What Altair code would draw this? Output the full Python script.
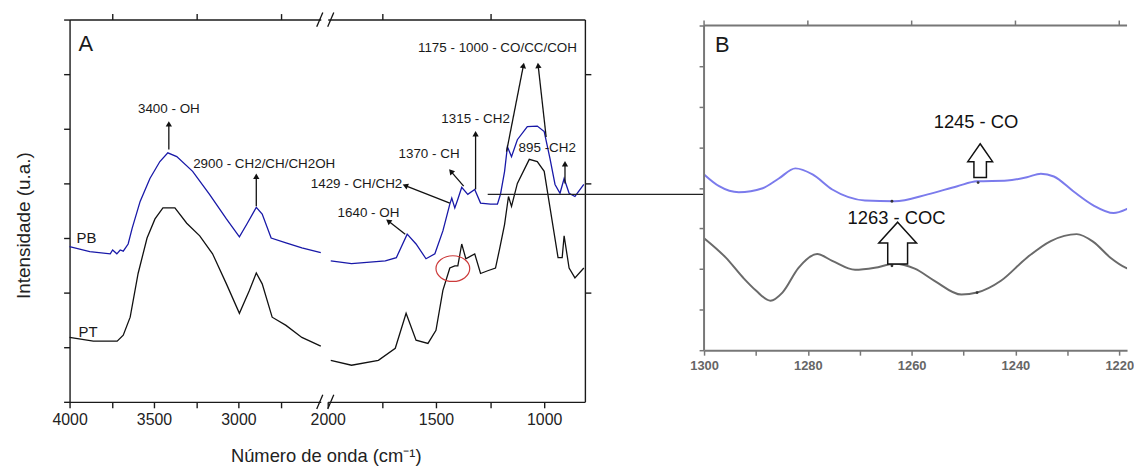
import altair as alt
import pandas as pd

FONT = "Liberation Sans"
BLUE_A = "#1818a8"
BLACK = "#111111"
BLUE_B = "#7b7bec"
GRAY_B = "#6a6a6a"
RED = "#cc3a3a"

# ---------------- Panel A, left segment (4000 -> ~2512 cm-1) ----------------
pb_left_wn = [4000, 3880, 3759, 3745, 3720, 3700, 3682, 3653, 3629, 3582, 3524, 3465, 3418,
              3365, 3271, 3171, 3071, 2994, 2947, 2894, 2859, 2806, 2718, 2624, 2512]
pb_left_val = [2.84, 2.75, 2.71, 2.78, 2.71, 2.78, 2.76, 2.89, 3.18, 3.67, 4.09, 4.40, 4.56,
               4.49, 4.22, 3.80, 3.35, 3.02, 3.27, 3.56, 3.44, 3.00, 2.91, 2.82, 2.73]
pt_left_wn = [4000, 3859, 3718, 3682, 3641, 3594, 3541, 3494, 3447, 3376, 3306, 3229, 3153,
              3071, 2994, 2935, 2894, 2859, 2800, 2718, 2624, 2512]
pt_left_val = [1.18, 1.11, 1.11, 1.22, 1.55, 2.35, 3.00, 3.35, 3.55, 3.55, 3.27, 3.04, 2.71,
               2.16, 1.62, 2.04, 2.36, 2.16, 1.55, 1.40, 1.18, 1.02]

# ---------------- Panel A, right segment (2000 -> ~812 cm-1) ----------------
pb_right_wn = [1986, 1890, 1734, 1683, 1633, 1592, 1546, 1505, 1468, 1436, 1427, 1413, 1399,
               1381, 1353, 1321, 1294, 1248, 1216, 1202, 1183, 1170, 1151, 1124, 1078, 1032,
               1000, 973, 950, 927, 908, 885, 858, 817]
pb_right_val = [2.58, 2.53, 2.58, 2.64, 3.07, 2.89, 2.62, 2.71, 3.13, 3.62, 3.73, 3.55, 3.71,
                3.93, 3.80, 3.89, 3.64, 3.62, 3.62, 3.80, 4.22, 4.67, 4.49, 4.80, 5.04, 5.05,
                4.95, 4.45, 3.98, 3.82, 4.09, 3.82, 3.76, 3.98]
pt_right_wn = [1986, 1890, 1766, 1688, 1638, 1592, 1537, 1500, 1468, 1436, 1413, 1399, 1381,
               1362, 1321, 1294, 1261, 1225, 1206, 1183, 1165, 1151, 1124, 1069, 1032, 1000,
               973, 936, 917, 908, 885, 858, 817]
pt_right_val = [0.76, 0.67, 0.76, 0.98, 1.62, 1.13, 1.07, 1.31, 2.04, 2.45, 2.49, 2.49, 2.89,
                2.62, 2.71, 2.35, 2.40, 2.45, 2.80, 3.25, 3.76, 3.58, 4.00, 4.44, 4.40, 4.22,
                3.55, 2.64, 2.64, 3.04, 2.45, 2.27, 2.45]

# ---------------- Panel B (zoom 1300 -> 1218 cm-1) ----------------
pb_b_wn = [1300, 1297.1, 1293.3, 1288.7, 1285.6, 1282.4, 1279.1, 1275.3, 1269.0, 1263.3,
           1256.9, 1251.2, 1247.4, 1241.6, 1237.8, 1235.1, 1232.6, 1228.8, 1225.0, 1221.1,
           1218.7, 1216.9]
pb_b_val = [4.33, 4.04, 3.89, 3.99, 4.23, 4.48, 4.33, 3.96, 3.69, 3.67,
            3.84, 4.04, 4.16, 4.18, 4.26, 4.35, 4.28, 3.91, 3.57, 3.38,
            3.47, 3.60]
pt_b_wn = [1300, 1295.8, 1292.5, 1290.0, 1287.2, 1284.9, 1281.8, 1278.2, 1275.3, 1270.9,
           1267.1, 1263.3, 1259.4, 1255.6, 1250.4, 1247.4, 1242.8, 1237.8, 1233.2, 1228.2,
           1225.0, 1221.7, 1218.7, 1216.9]
pt_b_val = [2.76, 2.28, 1.79, 1.47, 1.22, 1.42, 2.03, 2.37, 2.20, 1.98,
            2.03, 2.13, 2.01, 1.71, 1.37, 1.42, 1.71, 2.28, 2.69, 2.86,
            2.67, 2.28, 2.03, 1.96]

# ---------------- annotations ----------------
ann_l_text = ["3400 - OH", "2900 - CH2/CH/CH2OH"]
ann_l_x = [3412, 2847]
ann_l_y = [5.36, 4.35]
arr_l_x1 = [3412, 2894]
arr_l_y1 = [4.62, 3.58]
arr_l_x2 = [3412, 2894]
arr_l_y2 = [5.09, 4.13]
arr_l_ang = [0, 0]

ann_r_text = ["1175 - 1000 - CO/CC/COH", "1315 - CH2", "1370 - CH", "1429 - CH/CH2",
              "1640 - OH", "895 -CH2"]
ann_r_x = [1216, 1317, 1532, 1867, 1812, 986]
ann_r_y = [6.47, 5.18, 4.53, 3.98, 3.45, 4.64]
arr_r_x1 = [1174, 991, 1317, 1372, 1436, 1642, 904]
arr_r_y1 = [4.58, 4.85, 3.89, 3.95, 3.64, 3.07, 4.00]
arr_r_x2 = [1096, 1028, 1317, 1431, 1642, 1720, 904]
arr_r_y2 = [6.16, 6.16, 4.91, 4.22, 3.96, 3.31, 4.36]
arr_r_ang = [11, 354, 0, 319, 292, 307, 0]

series_names = ["PB", "PT"]
series_lab_x = [3959, 3947]
series_lab_y = [3.00, 1.27]

# axis break marks "//"
brk_x1 = [2536, 2471, 2536, 2471]
brk_x2 = [2500, 2435, 2500, 2435]
brk_y1 = [6.87, 6.87, -0.13, -0.13]
brk_y2 = [7.13, 7.13, 0.13, 0.13]

# connector line from panel A to panel B
conn_x1 = [1261]
conn_x2 = [261]
conn_y = [3.80]

# highlighted region (red ellipse)
ell_x = [1422]
ell_y = [2.44]

# panel B labels
b_text = ["1245 - CO", "1263 - COC"]
b_text_x = [1247.6, 1262.9]
b_text_y = [5.63, 3.25]
b_arrow_x = [1246.8, 1262.7]
b_arrow_y = [4.67, 2.64]
b_dot_x = [1263.8, 1247.2, 1263.8, 1247.4]
b_dot_y = [3.67, 4.13, 2.08, 1.42]
b_top_ticks = [1300, 1280, 1260, 1240, 1220]
b_xmax = 1218.5
b_ytop = 8.147   # top of panel B's plot area (frame line sits at 8)


def long(series, key):
    rows = []
    for name, wns, vals in series:
        for w, v in zip(wns, vals):
            rows.append({key: name, "wn": w, "val": v})
    return pd.DataFrame(rows)


df_al = long([("PB", pb_left_wn, pb_left_val), ("PT", pt_left_wn, pt_left_val)], "serie")
df_ar = long([("PB", pb_right_wn, pb_right_val), ("PT", pt_right_wn, pt_right_val)], "serie")
df_b = long([("PB", pb_b_wn, pb_b_val), ("PT", pt_b_wn, pt_b_val)], "curva")

color_a = alt.Scale(domain=["PB", "PT"], range=[BLUE_A, BLACK])
color_b = alt.Scale(domain=["PB", "PT"], range=[BLUE_B, GRAY_B])

ax_a = dict(domainColor="#1a1a1a", domainWidth=1.4, tickColor="#1a1a1a", tickWidth=1.4,
            tickSize=6, grid=False, labelFontSize=16, labelColor="#222222", labelPadding=4,
            labelFlush=False)
ax_b = dict(domainColor="#777777", domainWidth=2, tickColor="#777777", tickWidth=1.5,
            tickSize=5, grid=False, labelFontSize=13, labelFontWeight="bold",
            labelColor="#666666", labelPadding=4, labelFlush=False)

no_stroke = alt.ViewBackground(strokeOpacity=0, strokeWidth=0)
ys_a = alt.Scale(domain=[0, 7], nice=False, zero=False)

# ======================= Panel A left =======================
xs_l = alt.Scale(domain=[4000, 2512], nice=False, zero=False)
bottom_l = alt.Axis(orient="bottom", values=[4000, 3750, 3500, 3250, 3000, 2750], format="d",
                    labelExpr="datum.value % 500 == 0 ? datum.label : ''", title=None, **ax_a)
top_l = alt.Axis(orient="top", values=[3750, 3250, 2750], labels=False, title=None, **ax_a)
left_a = alt.Axis(orient="left", values=list(range(8)), labels=False,
                  title="Intensidade (u.a.)", titleFontSize=19, titleFontWeight="normal",
                  titleColor="#222222", titleAngle=270, titleX=-36, titleY=207,
                  titleAlign="center", titleBaseline="bottom", **ax_a)


def yl(field):
    return alt.Y(field, scale=ys_a, axis=left_a)


lines_l = alt.Chart(df_al).mark_line(strokeWidth=1.3).encode(
    x=alt.X("wn:Q", scale=xs_l, axis=bottom_l), y=yl("val:Q"),
    color=alt.Color("serie:N", scale=color_a, legend=None),
)
df_arr_l = pd.DataFrame({"x1": arr_l_x1, "y1": arr_l_y1, "x2": arr_l_x2, "y2": arr_l_y2,
                         "ang": arr_l_ang})
arr_l = alt.Chart(df_arr_l).mark_rule(color=BLACK, strokeWidth=1.3).encode(
    x=alt.X("x1:Q", scale=xs_l, axis=top_l), x2="x2:Q", y=yl("y1:Q"), y2="y2:Q")
head_l = alt.Chart(df_arr_l).mark_point(shape="triangle-up", filled=True, color=BLACK,
                                        size=40, opacity=1).encode(
    x=alt.X("x2:Q", scale=xs_l, axis=None), y=yl("y2:Q"),
    angle=alt.Angle("ang:Q", scale=None))
txt_l = alt.Chart(pd.DataFrame({"t": ann_l_text, "x": ann_l_x, "y": ann_l_y})).mark_text(
    fontSize=13.5, color="#1a1a1a").encode(
    x=alt.X("x:Q", scale=xs_l, axis=None), y=yl("y:Q"), text="t:N")
ser_l = alt.Chart(pd.DataFrame({"t": series_names, "x": series_lab_x, "y": series_lab_y})).mark_text(
    fontSize=15, align="left", color="#1a1a1a").encode(
    x=alt.X("x:Q", scale=xs_l, axis=None), y=yl("y:Q"), text="t:N")
lab_A = alt.Chart(pd.DataFrame({"t": ["A"], "x": [3947], "y": [6.55]})).mark_text(
    fontSize=22, align="left", color="#1a1a1a").encode(
    x=alt.X("x:Q", scale=xs_l, axis=None), y=yl("y:Q"), text="t:N")
brk = alt.Chart(pd.DataFrame({"x1": brk_x1, "x2": brk_x2, "y1": brk_y1, "y2": brk_y2})).mark_rule(
    color=BLACK, strokeWidth=1.3, clip=False).encode(
    x=alt.X("x1:Q", scale=xs_l, axis=None), x2="x2:Q", y=yl("y1:Q"), y2="y2:Q")

A_left = alt.layer(lines_l, arr_l, head_l, txt_l, ser_l, lab_A, brk).resolve_axis(
    x="independent").properties(width=253, height=385, view=no_stroke)

# ======================= Panel A right =======================
xs_r = alt.Scale(domain=[2000, 812], nice=False, zero=False)
bottom_r = alt.Axis(orient="bottom", values=[2000, 1750, 1500, 1250, 1000], format="d",
                    labelExpr="datum.value % 500 == 0 ? datum.label : ''",
                    title="Número de onda (cm⁻¹)", titleFontSize=18.5, titleFontWeight="normal",
                    titleColor="#222222", titleX=-2, titleY=60, titleAlign="center",
                    titleBaseline="alphabetic", **ax_a)
top_r = alt.Axis(orient="top", values=[1750, 1250], labels=False, title=None, **ax_a)
right_a = alt.Axis(orient="right", values=[2, 4, 6], labels=False, title=None, **ax_a)


def yr(field):
    return alt.Y(field, scale=ys_a, axis=right_a)


lines_r = alt.Chart(df_ar).mark_line(strokeWidth=1.3).encode(
    x=alt.X("wn:Q", scale=xs_r, axis=bottom_r), y=yr("val:Q"),
    color=alt.Color("serie:N", scale=color_a, legend=None),
)
df_arr_r = pd.DataFrame({"x1": arr_r_x1, "y1": arr_r_y1, "x2": arr_r_x2, "y2": arr_r_y2,
                         "ang": arr_r_ang})
arr_r = alt.Chart(df_arr_r).mark_rule(color=BLACK, strokeWidth=1.3).encode(
    x=alt.X("x1:Q", scale=xs_r, axis=top_r), x2="x2:Q", y=yr("y1:Q"), y2="y2:Q")
head_r = alt.Chart(df_arr_r).mark_point(shape="triangle-up", filled=True, color=BLACK,
                                        size=40, opacity=1).encode(
    x=alt.X("x2:Q", scale=xs_r, axis=None), y=yr("y2:Q"),
    angle=alt.Angle("ang:Q", scale=None))
txt_r = alt.Chart(pd.DataFrame({"t": ann_r_text, "x": ann_r_x, "y": ann_r_y})).mark_text(
    fontSize=13.5, color="#1a1a1a").encode(
    x=alt.X("x:Q", scale=xs_r, axis=None), y=yr("y:Q"), text="t:N")
conn = alt.Chart(pd.DataFrame({"x1": conn_x1, "x2": conn_x2, "y": conn_y})).mark_rule(
    color="#222222", strokeWidth=1.2, clip=False).encode(
    x=alt.X("x1:Q", scale=xs_r, axis=None), x2="x2:Q", y=yr("y:Q"))
ellipse = alt.Chart(pd.DataFrame({"x": ell_x, "y": ell_y})).mark_point(
    shape="M-1,0A1,0.76,0,1,1,1,0A1,0.76,0,1,1,-1,0Z", size=1156, filled=False,
    stroke=RED, strokeWidth=1.2, opacity=1).encode(
    x=alt.X("x:Q", scale=xs_r, axis=None), y=yr("y:Q"))

A_right = alt.layer(lines_r, arr_r, head_r, txt_r, conn, ellipse).resolve_axis(
    x="independent").properties(width=259, height=385, view=no_stroke)

# ======================= Panel B =======================
xs_b = alt.Scale(domain=[1300, b_xmax], nice=False, zero=False)
ys_b = alt.Scale(domain=[0, b_ytop], nice=False, zero=False)
bottom_b = alt.Axis(orient="bottom", values=[1300, 1290, 1280, 1270, 1260, 1250, 1240, 1230, 1220],
                    format="d", labelExpr="datum.value % 20 == 0 ? datum.label : ''",
                    title=None, **ax_b)
left_b = alt.Axis(orient="left", values=list(range(9)), labels=False, title=None, domain=False,
                  **{k: v for k, v in ax_b.items() if not k.startswith("domain")})


def yb(field):
    return alt.Y(field, scale=ys_b, axis=left_b)


lines_b = alt.Chart(df_b).mark_line(strokeWidth=2, interpolate="monotone", clip=True).encode(
    x=alt.X("wn:Q", scale=xs_b, axis=bottom_b), y=yb("val:Q"),
    color=alt.Color("curva:N", scale=color_b, legend=None),
)
# frame: left edge and top edge of panel B, top ticks
edge_l = alt.Chart(pd.DataFrame({"x": [1300], "y1": [0], "y2": [8]})).mark_rule(
    color="#777777", strokeWidth=2).encode(
    x=alt.X("x:Q", scale=xs_b, axis=None), y=yb("y1:Q"), y2="y2:Q")
edge_t = alt.Chart(pd.DataFrame({"x1": [1300], "x2": [b_xmax], "y": [8]})).mark_rule(
    color="#777777", strokeWidth=2).encode(
    x=alt.X("x1:Q", scale=xs_b, axis=None), x2="x2:Q", y=yb("y:Q"))
ticks_t = alt.Chart(pd.DataFrame({"x": b_top_ticks, "y": [8] * len(b_top_ticks)})).mark_tick(
    orient="vertical", size=5, thickness=1.5, color="#777777", yOffset=-2.5, opacity=1).encode(
    x=alt.X("x:Q", scale=xs_b, axis=None), y=yb("y:Q"))
dots_b = alt.Chart(pd.DataFrame({"x": b_dot_x, "y": b_dot_y})).mark_point(
    filled=True, color="#333333", size=8, opacity=1).encode(
    x=alt.X("x:Q", scale=xs_b, axis=None), y=yb("y:Q"))
txt_b = alt.Chart(pd.DataFrame({"t": b_text, "x": b_text_x, "y": b_text_y})).mark_text(
    fontSize=18.5, color="#111111").encode(
    x=alt.X("x:Q", scale=xs_b, axis=None), y=yb("y:Q"), text="t:N")
arrow1 = alt.Chart(pd.DataFrame({"x": b_arrow_x[:1], "y": b_arrow_y[:1]})).mark_point(
    shape="M0,-1L0.735,0.06L0.37,0.06L0.37,1L-0.37,1L-0.37,0.06L-0.735,0.06Z",
    size=1156, filled=True, fill="white", stroke=BLACK, strokeWidth=1.5, opacity=1).encode(
    x=alt.X("x:Q", scale=xs_b, axis=None), y=yb("y:Q"))
arrow2 = alt.Chart(pd.DataFrame({"x": b_arrow_x[1:], "y": b_arrow_y[1:]})).mark_point(
    shape="M0,-1L0.905,0L0.476,0L0.476,1L-0.476,1L-0.476,0L-0.905,0Z",
    size=1764, filled=True, fill="white", stroke=BLACK, strokeWidth=1.5, opacity=1).encode(
    x=alt.X("x:Q", scale=xs_b, axis=None), y=yb("y:Q"))
lab_B = alt.Chart(pd.DataFrame({"t": ["B"], "x": [1297.9], "y": [7.51]})).mark_text(
    fontSize=22, align="left", color="#1a1a1a").encode(
    x=alt.X("x:Q", scale=xs_b, axis=None), y=yb("y:Q"), text="t:N")

B = alt.layer(lines_b, edge_l, edge_t, ticks_t, dots_b, arrow1, arrow2, txt_b, lab_B).resolve_axis(
    x="independent").properties(width=426, height=333, view=no_stroke)

gap = alt.Chart(pd.DataFrame({"a": [0]})).mark_point(opacity=0).properties(
    width=106, height=1, view=no_stroke)

chart = alt.hconcat(A_left, A_right, gap, B, spacing=7, bounds="flush").properties(
    padding={"left": 7, "top": 2, "right": 0, "bottom": 0}
).resolve_scale(color="independent").configure_view(strokeOpacity=0).configure(font=FONT)

chart.save("out.html", embed_options={"renderer": "svg", "actions": False})
